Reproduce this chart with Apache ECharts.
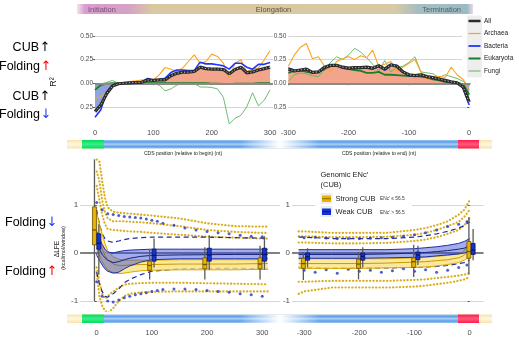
<!DOCTYPE html>
<html><head><meta charset="utf-8">
<script src="https://cdn.jsdelivr.net/npm/echarts@6/dist/echarts.min.js"></script>
<style>html,body{margin:0;padding:0;background:#fff}#c{width:519px;height:344px}</style>
</head><body><div id="c"></div>
<script>
// ---------- DATA ----------
const STRIP_LABELS = ['Initiation', 'Elongation', 'Termination'];
const GROUPS = ['All', 'Archaea', 'Bacteria', 'Eukaryota', 'Fungi'];
const TOP_Y_TICKS = [-0.25, 0, 0.25, 0.5];
const BEGIN_TICKS = [0, 100, 200, 300];
const END_TICKS = [-300, -200, -100, 0];
const BOT_Y_TICKS = [-1, 0, 1];

// Top-left: R2 vs position relative to begin
const TL_X = [0,10,20,30,40,50,60,70,80,90,100,110,120,130,140,150,160,170,180,190,200,210,220,230,240,250,260,270,280,290,300];
const TL_ALL = [-0.30,-0.23,-0.11,-0.03,-0.005,0,0.005,0.008,0.01,0.035,0.03,0.035,0.035,0.08,0.105,0.117,0.117,0.124,0.17,0.155,0.15,0.15,0.145,0.10,0.145,0.17,0.11,0.12,0.14,0.155,0.17];
const TL_ARC = [-0.16,-0.142,-0.09,-0.018,0.007,0.011,0.018,0.025,0.035,0.025,0.035,0.088,0.166,0.149,0.124,0.16,0.23,0.30,0.212,0.23,0.308,0.284,0.212,0.06,0.212,0.248,0.124,0.149,0.16,0.248,0.347];
const TL_BAC = [-0.36,-0.28,-0.09,-0.018,0,0.003,0.006,0.01,0.015,0.05,0.035,0.04,0.053,0.113,0.14,0.14,0.134,0.134,0.223,0.205,0.205,0.195,0.184,0.149,0.212,0.212,0.17,0.149,0.2,0.2,0.219];
const TL_EUK = [-0.07,-0.02,-0.005,0,0,0,0,0,0,0,0,0,0,0,0,0,0,0,0,0,-0.003,-0.005,-0.008,-0.01,-0.005,-0.005,-0.005,-0.005,0,0,0];
const TL_FUN = [-0.05,-0.01,0.01,0.03,0.0,0.005,0.005,0.005,0.005,0.01,0.0,-0.02,-0.08,-0.06,-0.02,0,0,0,-0.04,-0.04,-0.045,-0.06,-0.15,-0.43,-0.37,-0.34,-0.25,-0.10,-0.24,-0.18,-0.07];

// Top-right: R2 vs position relative to end
const TR_X = [-300,-290,-280,-270,-260,-250,-240,-230,-220,-210,-200,-190,-180,-170,-160,-150,-140,-130,-120,-110,-100,-90,-80,-70,-60,-50,-40,-30,-20,-10,0];
const TR_ALL = [0.15,0.13,0.14,0.15,0.115,0.12,0.17,0.19,0.19,0.17,0.16,0.165,0.165,0.17,0.16,0.185,0.15,0.195,0.18,0.12,0.09,0.08,0.09,0.07,0.06,0.045,0.03,0.015,0.005,-0.04,-0.2];
const TR_ARC = [0.18,0.30,0.38,0.42,0.26,0.28,0.18,0.12,0.23,0.26,0.28,0.25,0.29,0.27,0.35,0.18,0.20,0.23,0.13,0.17,0.21,0.25,0.12,0.04,0.06,0.075,0.06,0.17,0.09,0.04,-0.07];
const TR_BAC = [0.16,0.14,0.13,0.14,0.12,0.12,0.16,0.18,0.19,0.16,0.15,0.155,0.16,0.16,0.15,0.18,0.14,0.19,0.19,0.13,0.08,0.08,0.085,0.07,0.06,0.045,0.03,0.015,0.0,-0.05,-0.23];
const TR_EUK = [0.11,0.13,0.14,0.12,0.11,0.12,0.15,0.18,0.19,0.17,0.15,0.14,0.13,0.11,0.11,0.12,0.09,0.09,0.085,0.08,0.075,0.075,0.07,0.06,0.04,0.03,0.015,0.008,0.005,-0.01,-0.12];
const TR_FUN = [0.02,0.09,0.11,0.10,0.08,0.07,0.14,0.22,0.28,0.25,0.30,0.37,0.33,0.27,0.2,0.13,0.24,0.12,0.17,0.18,0.22,0.28,0.12,0.11,0.10,0.06,0.09,0.07,0.05,0.02,-0.02];

// Bottom-left: dLFE vs position relative to begin (Y = strong CUB, B = weak CUB)
const BL_X = [0,5,10,15,20,30,40,50,60,80,100,150,200,250,300,310];
const BL_Y_HI = [0.85,0.6,0.4,0.2,0.05,-0.08,-0.13,-0.15,-0.15,-0.15,-0.15,-0.14,-0.14,-0.14,-0.14,-0.14];
const BL_Y_MID = [0.45,0.25,0.08,-0.05,-0.14,-0.23,-0.26,-0.26,-0.25,-0.24,-0.24,-0.23,-0.23,-0.23,-0.22,-0.22];
const BL_Y_LO = [0.1,-0.05,-0.18,-0.28,-0.35,-0.41,-0.43,-0.42,-0.4,-0.37,-0.36,-0.35,-0.35,-0.35,-0.34,-0.34];
const BL_B_HI = [0.45,0.3,0.18,0.08,0.02,0.0,0.03,0.05,0.06,0.07,0.08,0.08,0.08,0.08,0.08,0.08];
const BL_B_MID = [0.2,0.08,-0.03,-0.1,-0.15,-0.2,-0.18,-0.14,-0.11,-0.07,-0.05,-0.04,-0.035,-0.03,-0.03,-0.03];
const BL_B_LO = [-0.05,-0.15,-0.25,-0.33,-0.38,-0.42,-0.4,-0.33,-0.27,-0.19,-0.14,-0.12,-0.12,-0.12,-0.12,-0.12];
const BL_B_P90 = [0.9,0.6,0.4,0.3,0.25,0.22,0.25,0.28,0.3,0.32,0.33,0.33,0.33,0.32,0.31,0.31];
const BL_B_P10 = [-0.4,-0.65,-0.8,-0.9,-0.92,-0.85,-0.75,-0.62,-0.55,-0.45,-0.38,-0.33,-0.32,-0.32,-0.33,-0.33];
const BL_Y_U1 = [1.95,1.9,1.5,1.15,0.95,0.86,0.84,0.83,0.82,0.8,0.78,0.72,0.62,0.56,0.55,0.55];
const BL_Y_U2 = [1.7,1.5,1.1,0.85,0.72,0.66,0.66,0.66,0.65,0.64,0.62,0.56,0.48,0.44,0.42,0.42];
const BL_Y_U3 = [1.4,1.1,0.8,0.6,0.5,0.48,0.47,0.46,0.45,0.44,0.42,0.38,0.34,0.32,0.3,0.3];
const BL_Y_L1 = [-0.4,-0.9,-1.1,-1.2,-1.25,-1.15,-1.0,-0.9,-0.85,-0.82,-0.81,-0.8,-0.8,-0.8,-0.8,-0.8];
const BL_Y_L2 = [-0.3,-0.6,-0.85,-0.95,-0.9,-0.8,-0.72,-0.66,-0.64,-0.63,-0.62,-0.62,-0.63,-0.64,-0.65,-0.65];
const BL_DOT_X = [0,10,20,30,40,50,60,70,80,90,100,110,120,140,160,180,200,220,240,260,280,300];
const BL_BDOT_HI = [1.05,0.9,0.82,0.8,0.78,0.76,0.75,0.74,0.73,0.71,0.68,0.66,0.62,0.58,0.52,0.48,0.45,0.42,0.4,0.37,0.35,0.34];
const BL_BDOT_LO = [-0.6,-0.9,-1.0,-1.02,-0.98,-0.93,-0.9,-0.87,-0.85,-0.83,-0.8,-0.78,-0.76,-0.75,-0.75,-0.76,-0.78,-0.8,-0.82,-0.85,-0.87,-0.9];
const BL_BOX_X = [0, 100, 200, 300];
// [whisker low, Q1, median, Q3, whisker high]
const BL_Y_BOX = [[-1.0,0.17,0.48,0.96,1.95],[-0.55,-0.36,-0.26,-0.17,0.08],[-0.55,-0.33,-0.24,-0.1,0.12],[-0.55,-0.33,-0.23,-0.1,0.15]];
const BL_B_BOX = [[-0.45,0.08,0.2,0.4,0.6],[-0.3,-0.17,-0.05,0.08,0.3],[-0.35,-0.17,-0.04,0.1,0.37],[-0.35,-0.17,-0.03,0.1,0.35]];

// Bottom-right: dLFE vs position relative to end
const BR_X = [-310,-300,-250,-200,-150,-100,-80,-60,-40,-20,-10,0];
const BR_Y_HI = [-0.12,-0.12,-0.12,-0.12,-0.12,-0.1,-0.09,-0.07,-0.05,-0.02,0.05,0.25];
const BR_Y_MID = [-0.22,-0.22,-0.22,-0.22,-0.21,-0.19,-0.18,-0.16,-0.14,-0.1,-0.05,0.08];
const BR_Y_LO = [-0.32,-0.32,-0.32,-0.32,-0.31,-0.3,-0.29,-0.27,-0.24,-0.2,-0.15,-0.08];
const BR_B_HI = [0.07,0.07,0.07,0.07,0.07,0.09,0.11,0.13,0.16,0.2,0.24,0.3];
const BR_B_MID = [-0.03,-0.03,-0.03,-0.03,-0.02,0.0,0.01,0.03,0.05,0.08,0.1,0.15];
const BR_B_LO = [-0.11,-0.11,-0.11,-0.11,-0.1,-0.09,-0.08,-0.06,-0.04,-0.02,0.0,0.03];
const BR_B_P90 = [0.33,0.33,0.3,0.3,0.3,0.33,0.36,0.4,0.45,0.52,0.57,0.65];
const BR_B_P10 = [-0.3,-0.3,-0.32,-0.31,-0.31,-0.3,-0.29,-0.28,-0.26,-0.22,-0.2,-0.15];
const BR_Y_U1 = [0.45,0.45,0.42,0.42,0.42,0.48,0.52,0.58,0.66,0.8,0.9,1.1];
const BR_Y_U2 = [0.35,0.35,0.33,0.33,0.34,0.38,0.42,0.48,0.56,0.65,0.75,0.9];
const BR_Y_U3 = [0.22,0.22,0.2,0.2,0.21,0.25,0.28,0.33,0.4,0.48,0.58,0.72];
const BR_Y_L1 = [-0.85,-0.8,-0.72,-0.72,-0.72,-0.7,-0.68,-0.65,-0.62,-0.58,-0.55,-0.5];
const BR_Y_L2 = [-0.6,-0.6,-0.58,-0.58,-0.58,-0.56,-0.55,-0.52,-0.5,-0.47,-0.45,-0.42];
const BR_DOT_X = [-300,-280,-260,-240,-220,-200,-180,-160,-140,-120,-100,-80,-60,-40,-20,-5];
const BR_BDOT_HI = [0.32,0.33,0.31,0.3,0.3,0.3,0.31,0.32,0.33,0.35,0.38,0.42,0.48,0.55,0.6,0.65];
const BR_BDOT_LO = [-0.36,-0.4,-0.35,-0.42,-0.34,-0.38,-0.36,-0.4,-0.37,-0.33,-0.38,-0.35,-0.4,-0.36,-0.3,-0.25];
const BR_BOX_X = [-300, -200, -100, 0];
const BR_Y_BOX = [[-0.56,-0.32,-0.22,-0.11,0.02],[-0.55,-0.32,-0.23,-0.13,0.02],[-0.5,-0.3,-0.18,-0.1,0.17],[-0.45,-0.11,0.03,0.24,0.75]];
const BR_B_BOX = [[-0.3,-0.15,-0.08,0.0,0.1],[-0.3,-0.15,-0.07,0.0,0.12],[-0.25,-0.14,-0.04,0.02,0.15],[-0.15,-0.03,0.06,0.2,0.5]];

// ---------- HELPERS ----------
const GRAY = '#4d4d4d';
const FONT = 'Liberation Sans, Arial, sans-serif';
const C = {all:'#2b2b2b', arc:'#ffa31a', bac:'#1f35ff', euk:'#1b7d2b', fun:'#5fb35f',
  yFill:'rgba(250,226,130,0.8)', yEdge:'#d9a900', yMid:'#c99a00', yDot:'#d8ad1c',
  bFill:'rgba(50,70,215,0.45)', bEdge:'#1c2fa8', bMid:'#16237a', bDash:'#1f2fa0', bDot:'#2436c0'};
const pairs = (xs, ys) => xs.map((x, i) => [x, ys[i]]);

function lineS(gi, xs, ys, color, width, extra) {
  return Object.assign({type:'line', xAxisIndex:gi, yAxisIndex:gi, data:pairs(xs, ys), symbol:'none',
    silent:true, animation:false, lineStyle:{color:color, width:width}}, extra || {});
}
function areaS(gi, xs, ys, color) {
  return lineS(gi, xs, ys, color, 0, {areaStyle:{color:color, opacity:1}, z:1});
}
function zeroLine(gi, color, width) {
  return {type:'line', xAxisIndex:gi, yAxisIndex:gi, data:[], silent:true, animation:false, z:1,
    markLine:{silent:true, symbol:'none', animation:false, label:{show:false},
      lineStyle:{color:color, width:width, type:'solid'}, data:[{yAxis:0}]}};
}
function dotted(gi, xs, ys) {
  return lineS(gi, xs, ys, C.yDot, 2.1, {z:3, lineStyle:{color:C.yDot, width:2.1, type:[0.3, 3.1], cap:'round'}});
}
function dashed(gi, xs, ys) {
  return lineS(gi, xs, ys, C.bDash, 1.2, {z:4, lineStyle:{color:C.bDash, width:1.2, type:[5, 3.5]}});
}
function dots(gi, xs, ys) {
  return {type:'scatter', xAxisIndex:gi, yAxisIndex:gi, data:pairs(xs, ys), symbolSize:3,
    itemStyle:{color:C.bDot}, silent:true, animation:false, z:4};
}
function ribbon(gi, xs, lo, mid, hi, fill, edge, midColor, z) {
  return {type:'custom', xAxisIndex:gi, yAxisIndex:gi, z:z, silent:true, animation:false,
    data:[[xs[0], mid[0]]],
    renderItem: function (params, api) {
      const up = xs.map((x, i) => api.coord([x, hi[i]]));
      const dn = xs.map((x, i) => api.coord([x, lo[i]]));
      const md = xs.map((x, i) => api.coord([x, mid[i]]));
      return {type:'group', children:[
        {type:'polygon', shape:{points: up.concat(dn.slice().reverse())}, style:{fill:fill}},
        {type:'polyline', shape:{points:up}, style:{stroke:edge, lineWidth:1, fill:null}},
        {type:'polyline', shape:{points:dn}, style:{stroke:edge, lineWidth:1, fill:null}},
        {type:'polyline', shape:{points:md}, style:{stroke:midColor, lineWidth:1, fill:null}}
      ]};
    }};
}
function boxes(gi, xs, stats, fill, stroke, dx) {
  return {type:'custom', xAxisIndex:gi, yAxisIndex:gi, z:10, silent:true, animation:false,
    data: xs.map((x, i) => [x].concat(stats[i])),
    renderItem: function (params, api) {
      const x = api.value(0);
      const p = [1,2,3,4,5].map(k => api.coord([x, api.value(k)]));
      const cx = p[0][0] + dx, w = 4;
      return {type:'group', children:[
        {type:'line', shape:{x1:cx, y1:p[4][1], x2:cx, y2:p[0][1]}, style:{stroke:'#5a5a5a', lineWidth:1.3}},
        {type:'rect', shape:{x:cx - w/2, y:p[3][1], width:w, height:p[1][1] - p[3][1]}, style:{fill:fill, stroke:stroke, lineWidth:0.8}},
        {type:'line', shape:{x1:cx - w/2, y1:p[2][1], x2:cx + w/2, y2:p[2][1]}, style:{stroke:stroke, lineWidth:1.3}}
      ]};
    }};
}
function xAx(gi, min, max, ticks, offset) {
  return {gridIndex:gi, type:'value', min:min, max:max, offset:offset || 0,
    axisLine:{show:false},
    axisTick:{show:true, length:2, customValues:ticks, lineStyle:{color:'#333', width:0.8}},
    axisLabel:{customValues:ticks, fontSize:7.5, color:GRAY, margin:1.5, fontFamily:FONT},
    splitLine:{show:false}};
}
function yAx(gi, min, max, ticks, fs, fmt) {
  return {gridIndex:gi, type:'value', min:min, max:max,
    axisLine:{show:false},
    axisTick:{show:true, length:2, customValues:ticks, lineStyle:{color:'#333', width:0.8}},
    axisLabel:{customValues:ticks, fontSize:fs, color:GRAY, margin:2, fontFamily:FONT, formatter:fmt},
    splitLine:{show:true, lineStyle:{color:'#d6d6d6', width:1}}};
}
const topFmt = v => (v < 0 ? -v : v).toFixed(2);

// ---------- STRIPS / TEXT ----------
const G = [];
function txt(t, x, y, size, color, align, extra) {
  G.push(Object.assign({type:'text', x:x, y:y, z:100, silent:true,
    style:{text:t, fill:color, font:size + 'px ' + FONT, align:align || 'left', verticalAlign:'middle'}}, extra || {}));
}
function rect(x, y, w, h, fill, z) {
  G.push({type:'rect', z:z || 100, silent:true, shape:{x:x, y:y, width:w, height:h}, style:{fill:fill}});
}
const vgrad = (a, b) => ({type:'linear', x:0, y:0, x2:0, y2:1, colorStops:[{offset:0,color:a},{offset:0.5,color:b},{offset:1,color:a}]});
// top phase strip
rect(77, 4, 396, 10, {type:'linear', x:0, y:0, x2:1, y2:0, colorStops:[
  {offset:0, color:'#f4e4f0'}, {offset:0.02, color:'#d89ccf'}, {offset:0.13, color:'#d4a2c4'},
  {offset:0.19, color:'#d9c8a2'}, {offset:0.8, color:'#d9caa4'}, {offset:0.86, color:'#a7bec0'},
  {offset:0.985, color:'#9cbac4'}, {offset:1, color:'#ecd8e6'}]});
txt(STRIP_LABELS[0], 88, 9.5, 7.5, '#7c4f75');
txt(STRIP_LABELS[1], 273.5, 9.5, 7.5, '#5a5040', 'center');
txt(STRIP_LABELS[2], 461, 9.5, 7.5, '#46666c', 'right');
// CDS bars
function cdsBar(y) {
  rect(67, y, 425, 8.5, vgrad('#f8e3a8', '#fff7e2'));
  rect(82, y, 22, 8.5, vgrad('#00dc58', '#3aee8c'));
  rect(104, y, 354, 8.5, {type:'linear', x:0, y:0, x2:0, y2:1, colorStops:[
    {offset:0, color:'#9cc7f5'}, {offset:0.22, color:'#5b9de9'}, {offset:0.5, color:'#a9cff7'},
    {offset:0.78, color:'#5b9de9'}, {offset:1, color:'#9cc7f5'}]});
  rect(240, y, 80, 8.5, {type:'linear', x:0, y:0, x2:1, y2:0, colorStops:[
    {offset:0, color:'rgba(255,255,255,0)'}, {offset:0.5, color:'rgba(255,255,255,1)'}, {offset:1, color:'rgba(255,255,255,0)'}]});
  rect(458, y, 21, 8.5, vgrad('#ff1a4f', '#ff5a7c'));
}
cdsBar(140);
cdsBar(314.5);
txt('CDS position (relative to begin) (nt)', 183, 153.5, 5, '#222', 'center');
txt('CDS position (relative to end) (nt)', 379, 153.5, 5, '#222', 'center');
// left annotations
function ann(word, arrow, color, xr, y) {
  txt(word, xr, y, 12.5, '#000', 'right');
  G.push({type:'text', x:xr + 0.5, y:y, z:100, silent:true,
    style:{text:arrow, fill:color, font:'13px DejaVu Sans, sans-serif', align:'left', verticalAlign:'middle'}});
}
ann('CUB', '↑', '#000', 39, 48);
ann('Folding', '↑', '#ff0000', 40, 67);
ann('CUB', '↑', '#000', 39, 97);
ann('Folding', '↓', '#1a3cff', 40, 115);
ann('Folding', '↓', '#1a3cff', 46, 223);
ann('Folding', '↑', '#ff0000', 46, 272);
txt('R²', 54, 82, 9, '#222', 'center', {rotation:Math.PI/2});
txt('ΔLFE', 57.5, 249, 6.5, '#222', 'center', {rotation:Math.PI/2});
txt('(kcal/mol/window)', 63.5, 248, 5.5, '#222', 'center', {rotation:Math.PI/2});
// top legend
rect(462, 15, 57, 63, '#ffffff', 90);
rect(467, 15.5, 15, 62, '#eeeeee', 95);
const LEG_Y = [21, 33.5, 46, 58.5, 71];
const LEG_C = [[C.all, 2.5], [C.arc, 1.2], [C.bac, 1.8], [C.euk, 2], [C.fun, 1]];
GROUPS.forEach((g, i) => {
  G.push({type:'line', z:100, silent:true, shape:{x1:468.5, y1:LEG_Y[i], x2:480.5, y2:LEG_Y[i]},
    style:{stroke:LEG_C[i][0], lineWidth:LEG_C[i][1]}});
  txt(g, 484, LEG_Y[i], 6.5, '#222');
});
// bottom legend
rect(315, 165, 97, 54, '#ffffff', 90);
txt('Genomic ENc′', 320.5, 174.5, 7.5, '#222');
txt('(CUB)', 320.5, 184.5, 7.5, '#222');
rect(320.5, 193, 12, 11, '#eeeeee', 95);
rect(320.5, 206, 12, 11, '#eeeeee', 95);
rect(322, 195.5, 9, 6.5, '#e6b300');
G.push({type:'line', z:101, silent:true, shape:{x1:322, y1:198.7, x2:331, y2:198.7}, style:{stroke:'#7a5c00', lineWidth:0.8}});
rect(322, 208.5, 9, 6.5, '#1432d8');
G.push({type:'line', z:101, silent:true, shape:{x1:322, y1:211.7, x2:331, y2:211.7}, style:{stroke:'#0a155e', lineWidth:0.8}});
txt('Strong CUB', 335.5, 199, 7.5, '#222');
txt('ENc′ ≤ 56.5', 380, 198.5, 4.8, '#333');
txt('Weak CUB', 335.5, 211.5, 7.5, '#222');
txt('ENc′ > 56.5', 380, 212.5, 4.8, '#333');

// ---------- OPTION ----------
const grids = [
  {left:95, top:30.3, width:178, height:97.4},
  {left:288.3, top:30.3, width:182.1, height:97.4},
  {left:80.1, top:159.4, width:199.8, height:151.2},
  {left:292, top:159.4, width:191.5, height:151.2}
].map(g => Object.assign({containLabel:false, outerBoundsMode:'none'}, g));

const series = [];
// top panels
[[0, TL_X, TL_ALL, TL_ARC, TL_BAC, TL_EUK, TL_FUN], [1, TR_X, TR_ALL, TR_ARC, TR_BAC, TR_EUK, TR_FUN]].forEach(p => {
  const [gi, xs, all, arc, bac, euk, fun] = p;
  series.push(areaS(gi, xs, all.map(v => Math.max(v, 0)), '#f3a58c'));
  series.push(areaS(gi, xs, all.map(v => Math.min(v, 0)), '#8ea4dc'));
  series.push(zeroLine(gi, '#8a8a8a', 2));
  series.push(lineS(gi, xs, fun, C.fun, 0.9, {z:3}));
  series.push(lineS(gi, xs, euk, C.euk, 1.8, {z:3}));
  series.push(lineS(gi, xs, arc, C.arc, 1.1, {z:4}));
  series.push(lineS(gi, xs, bac, C.bac, 1.6, {z:5}));
  series.push(lineS(gi, xs, all, C.all, 3.2, {z:6}));
  series.push(lineS(gi, xs, all, '#cfcfcf', 0.9, {z:7, lineStyle:{color:'#d0d0d0', width:0.9, type:[1.2, 2]}}));
});
// bottom panels
[[2, BL_X, BL_Y_HI, BL_Y_MID, BL_Y_LO, BL_B_HI, BL_B_MID, BL_B_LO, BL_B_P90, BL_B_P10, [BL_Y_U1, BL_Y_U2, BL_Y_U3, BL_Y_L1, BL_Y_L2], BL_DOT_X, BL_BDOT_HI, BL_BDOT_LO, BL_BOX_X, BL_Y_BOX, BL_B_BOX, -2.2, 2.2],
 [3, BR_X, BR_Y_HI, BR_Y_MID, BR_Y_LO, BR_B_HI, BR_B_MID, BR_B_LO, BR_B_P90, BR_B_P10, [BR_Y_U1, BR_Y_U2, BR_Y_U3, BR_Y_L1, BR_Y_L2], BR_DOT_X, BR_BDOT_HI, BR_BDOT_LO, BR_BOX_X, BR_Y_BOX, BR_B_BOX, -0.8, 3.4]
].forEach(p => {
  const [gi, xs, yh, ym, yl, bh, bm, bl, b90, b10, ydots, dx, dh, dl, bx, ybox, bbox, oy, ob] = p;
  series.push(zeroLine(gi, '#808080', 2));
  ydots.forEach(arr => series.push(dotted(gi, xs, arr)));
  series.push(dots(gi, dx, dh));
  series.push(dots(gi, dx, dl));
  series.push(ribbon(gi, xs, yl, ym, yh, C.yFill, C.yEdge, C.yMid, 5));
  series.push(ribbon(gi, xs, bl, bm, bh, C.bFill, C.bEdge, C.bMid, 6));
  series.push(dashed(gi, xs, b90));
  series.push(dashed(gi, xs, b10));
  series.push(boxes(gi, bx, ybox, '#e6b300', '#6e5200', oy));
  series.push(boxes(gi, bx, bbox, '#1432d8', '#0a155e', ob));
});

const option = {
  animation:false,
  backgroundColor:'#ffffff',
  grid: grids,
  xAxis: [xAx(0, 0, 305, BEGIN_TICKS), xAx(1, -300, 2, END_TICKS),
          xAx(2, -30, 332, BEGIN_TICKS, 17), xAx(3, -322, 25, END_TICKS, 17)],
  yAxis: [yAx(0, -0.47, 0.56, TOP_Y_TICKS, 6.5, topFmt), yAx(1, -0.47, 0.56, TOP_Y_TICKS, 6.5, topFmt),
          yAx(2, -1.2, 1.95, BOT_Y_TICKS, 8), yAx(3, -1.2, 1.95, BOT_Y_TICKS, 8)],
  series: series,
  graphic: {elements: G}
};
const chart = echarts.init(document.getElementById('c'), null, {renderer:'canvas'});
chart.setOption(option);
</script></body></html>
